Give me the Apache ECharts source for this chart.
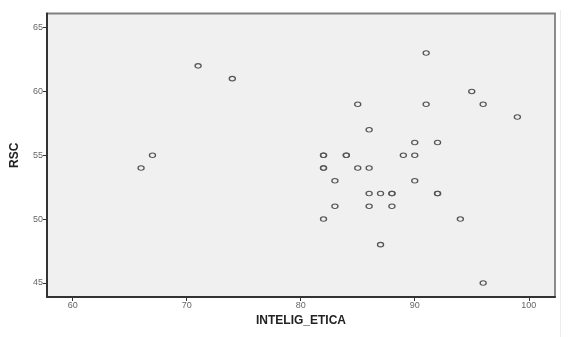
<!DOCTYPE html>
<html><head><meta charset="utf-8">
<script src="https://cdn.jsdelivr.net/npm/echarts@6/dist/echarts.min.js"></script>
<style>html,body{margin:0;padding:0;background:#fff}#c{width:568px;height:337px}</style>
</head><body><div id="c"></div>
<script>
const intelig = [66,67,71,74,82,82,82,82,82,83,83,84,84,85,85,86,86,86,86,87,87,88,88,88,89,90,90,90,91,91,92,92,92,94,95,96,96,99];
const rsc     = [54,55,62,61,55,55,54,54,50,53,51,55,55,59,54,57,54,52,51,52,48,52,52,51,55,56,55,53,63,59,56,52,52,50,60,59,45,58];
const xTicks = [60,70,80,90,100];
const yTicks = [45,50,55,60,65];

const chart = echarts.init(document.getElementById('c'));
chart.setOption({
  animation: false,
  graphic: [{type:'line', shape:{x1:560.5, y1:10, x2:560.5, y2:337}, style:{stroke:'#ececec', lineWidth:1}, silent:true}],
  grid: {left:47, top:13.5, right:13, bottom:40, show:true, backgroundColor:'#f0f0f0', borderColor:'#808080', borderWidth:1.8},
  xAxis: {
    type:'value', min:57.75, max:102.3,
    name:'INTELIG_ETICA', nameLocation:'middle', nameGap:17,
    nameTextStyle:{fontFamily:'Liberation Sans', fontWeight:'bold', fontSize:12, color:'#222'},
    splitLine:{show:false},
    axisLine:{show:true, onZero:false, lineStyle:{color:'#333', width:2}},
    axisTick:{show:true, length:4, customValues:xTicks, lineStyle:{color:'#333'}},
    axisLabel:{customValues:xTicks, fontSize:9, color:'#666', margin:4, fontFamily:'Liberation Sans'}
  },
  yAxis: {
    type:'value', min:43.9, max:66.1,
    name:'RSC', nameLocation:'middle', nameGap:26, nameRotate:90,
    nameTextStyle:{fontFamily:'Liberation Sans', fontWeight:'bold', fontSize:12, color:'#222'},
    splitLine:{show:false},
    axisLine:{show:true, onZero:false, lineStyle:{color:'#333', width:2}},
    axisTick:{show:true, length:4, customValues:yTicks, lineStyle:{color:'#333'}},
    axisLabel:{customValues:yTicks, fontSize:9, color:'#666', margin:4, fontFamily:'Liberation Sans'}
  },
  series: [{
    type:'scatter',
    data: intelig.map((x,i)=>[x, rsc[i]]),
    symbol:'circle', symbolSize:[6,4.5],
    itemStyle:{color:'rgba(0,0,0,0)', borderColor:'#555', borderWidth:1.2, opacity:1}
  }]
});
</script></body></html>
